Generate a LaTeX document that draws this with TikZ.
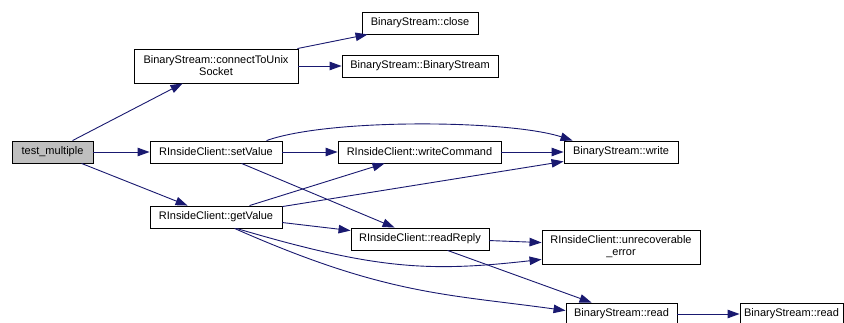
\documentclass[tikz,border=0pt]{standalone}
\usepackage{fontspec}
\setmainfont{Liberation Sans}
\usetikzlibrary{arrows.meta,calc}
\definecolor{edgeblue}{HTML}{191970}
\definecolor{rootgray}{HTML}{BFBFBF}
\begin{document}
\begin{tikzpicture}[x=1pt,y=-1pt,
  fn/.style={draw=black,line width=0.9pt,fill=white,inner sep=0pt,align=center,
    font=\fontsize{11}{12}\selectfont,minimum height=22pt},
  call/.style={draw=edgeblue,line width=0.9pt,-{Triangle[length=12pt,width=8.5pt]}}]
\useasboundingbox (0,0) rectangle (844,323);
\clip (0,0) rectangle (844,323);
\fill[white] (0,0) rectangle (844,323);
% nodes
\node[fn,fill=rootgray,minimum width=81pt] (tm) at (52.5,152) {test\_multiple};
\node[fn,minimum width=164pt,minimum height=34pt] (cts) at (216,66) {BinaryStream::connectToUnix\\Socket};
\node[fn,minimum width=116pt] (close) at (420,23) {BinaryStream::close};
\node[fn,minimum width=156pt] (bsbs) at (420,66) {BinaryStream::BinaryStream};
\node[fn,minimum width=132pt] (setv) at (216,152) {RInsideClient::setValue};
\node[fn,minimum width=163pt] (wcmd) at (419.5,152) {RInsideClient::writeCommand};
\node[fn,minimum width=114pt] (write) at (621,152) {BinaryStream::write};
\node[fn,minimum width=132pt] (getv) at (216,217) {RInsideClient::getValue};
\node[fn,minimum width=138pt] (rr) at (420,239) {RInsideClient::readReply};
\node[fn,minimum width=158pt,minimum height=34pt] (unrec) at (621,247) {RInsideClient::unrecoverable\\\_error};
\node[fn,minimum width=111pt] (read1) at (621.5,314) {BinaryStream::read};
\node[fn,minimum width=103pt] (read2) at (791.5,314) {BinaryStream::read};
% connectors
\draw[call] ($(tm.north west)+(61,0)$) -- ($(cts.south west)+(49,0)$);
\draw[call] (tm.east) -- (setv.west);
\draw[call] ($(tm.south west)+(70,0)$) -- ($(getv.north west)+(38,0)$);
\draw[call] ($(cts.north east)+(-1,0)$) -- ($(close.south west)+(6,0)$);
\draw[call] (cts.east) -- (bsbs.west);
\draw[call] ($(setv.north west)+(117,0)$) .. controls (330,118) and (510,120) .. ($(write.north west)+(9,0)$);
\draw[call] (setv.east) -- (wcmd.west);
\draw[call] ($(setv.south west)+(92,0)$) -- ($(rr.north west)+(44,0)$);
\draw[call] (wcmd.east) -- (write.west);
\draw[call] ($(getv.north west)+(100,0)$) -- ($(wcmd.south west)+(47,0)$);
\draw[call] ($(getv.north east)+(0,1)$) -- ($(write.south west)+(0,-2)$);
\draw[call] ($(getv.north east)+(0,17)$) -- ($(rr.north west)+(0,3)$);
\draw[call] ($(getv.south west)+(87,0)$) .. controls (377,270) and (430,272) .. ($(unrec.south west)+(0,-5)$);
\draw[call] ($(getv.south west)+(85,0)$) .. controls (385,295) and (446,294) .. ($(read1.north west)+(0,8)$);
\draw[call] ($(rr.north east)+(0,13)$) -- ($(unrec.north west)+(0,13)$);
\draw[call] ($(rr.south west)+(97,0)$) -- ($(read1.north west)+(26,0)$);
\draw[call] (read1.east) -- (read2.west);
\end{tikzpicture}
\end{document}
